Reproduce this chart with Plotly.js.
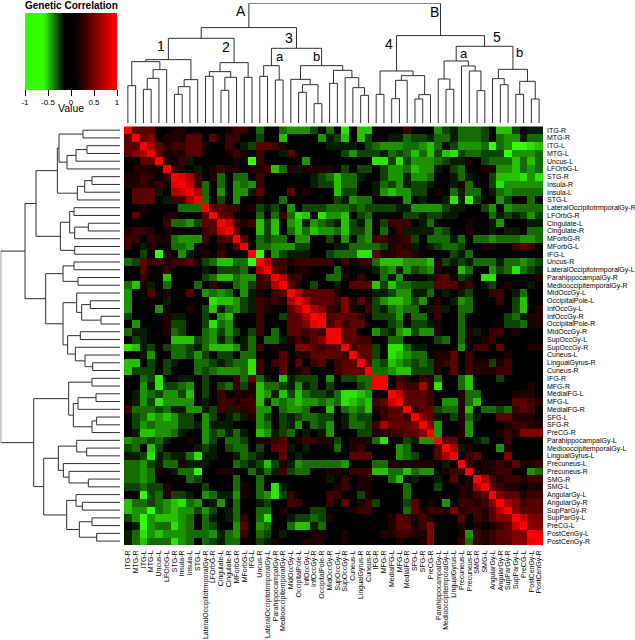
<!DOCTYPE html>
<html><head><meta charset="utf-8">
<script src="https://cdn.plot.ly/plotly-3.0.1.min.js"></script>
<style>html,body{margin:0;padding:0;background:#fff}#c{width:635px;height:640px}</style>
</head><body><div id="c"></div>
<script>
var regions=["ITG-R","MTG-R","ITG-L","MTG-L","Uncus-L","LFOrbG-L","STG-R","Insula-R","Insula-L","STG-L","LateralOccipitotrmporalGy-R","LFOrbG-R","Cingulate-L","Cingulate-R","MForbG-R","MForbG-L","IFG-L","Uncus-R","LateralOccipitotrmporalGy-L","ParahippocampalGy-R","MediooccipitemporalGy-R","MidOccGy-L","OccipitalPole-L","InfOccGy-L","InfOccGy-R","OccipitalPole-R","MidOccGy-R","SupOccGy-L","SupOccGy-R","Cuneus-L","LingualGyrus-R","Cuneus-R","IFG-R","MFG-R","MedialFG-L","MFG-L","MedialFG-R","SFG-L","SFG-R","PreCG-R","ParahippocampalGy-L","MediooccipitemporalGy-L","LingualGyrus-L","Precuneus-L","Precuneus-R","SMG-R","SMG-L","AngularGy-L","AngularGy-R","SupParGy-R","SupParGy-L","PreCG-L","PostCenGy-L","PostCenGy-R"];

// colour-intensity levels, converted to correlation by these tables
var positiveLevels=[0,.2,.3,.4,.53,.67,.77,.87,.92,.96,1];
var negativeLevels=[0,-.2,-.27,-.34,-.41,-.49,-.55,-.6];

// upper triangle of the symmetric matrix: row i holds columns i+1..53
var upperRows=[
[3,3,3,0,0,1,1,0,0,0,0,0,1,2,2,0,-3,0,0,-3,-4,-4,-4,-2,0,-3,0,-6,0,-5,-5,0,0,0,0,2,0,0,0,-4,-2,-1,-3,-3,-3,-2,0,-5,-5,-2,0,-1,-1],
[3,4,0,1,1,1,3,3,0,3,0,2,2,0,0,-2,0,0,-5,0,0,0,0,-4,-1,-2,-5,0,-5,-2,0,0,-1,-1,-3,-2,-2,-1,-3,-3,-1,-3,-3,-3,-2,0,-3,-4,-4,-1,-3,-3],
[5,3,1,2,2,3,3,1,0,0,2,0,-1,-2,3,3,2,1,0,0,0,0,0,-1,-1,-1,-1,0,-2,-3,-4,-4,-4,-3,-3,-4,-5,-3,0,-2,-4,-4,-4,-3,-7,-3,-4,-7,-7,-6,-5],
[3,1,1,1,3,3,0,0,0,1,2,1,0,2,0,0,-1,3,0,0,0,0,0,0,-2,-4,-2,-2,-2,-1,-3,-2,-3,-5,-3,-5,-2,-5,-6,-2,-3,-3,-2,-2,-2,-7,-4,-4,-4,-3],
[1,0,2,-1,0,0,0,0,0,1,0,-7,2,0,0,0,0,0,-4,0,0,0,0,0,0,0,0,-6,-6,-2,-6,-2,-4,-4,-4,-3,-2,-1,-1,1,0,-2,-3,-3,-3,-5,-3,-5,-3],
[2,1,0,-1,0,1,2,1,1,0,1,1,2,-5,-3,1,-1,1,1,1,1,0,-2,0,-2,-2,0,-2,-4,-4,-3,-5,-4,-4,-1,0,-2,-3,0,0,1,1,-4,-4,-5,-3,-4,-3],
[7,5,2,0,1,-3,0,-3,-3,0,2,0,0,0,0,0,0,-1,-2,-3,-5,-3,-3,-1,0,0,-2,-4,-4,-1,-4,-4,-3,0,0,-1,-3,-1,0,0,-2,-5,-5,-5,-6,-4,-6],
[6,2,-3,0,-3,0,-4,-3,-4,2,0,0,0,0,0,0,-1,-2,-2,-5,-3,-3,0,0,-1,-3,-2,-4,-1,-2,-2,-1,0,0,-1,1,-3,0,0,-2,-6,-4,-4,-4,-4,-4],
[5,-3,0,-4,0,-4,-4,-1,3,0,0,0,3,0,1,0,0,0,-5,-2,-2,0,0,-1,-4,-5,-4,-4,-2,-2,0,1,0,-3,-1,-3,-3,0,-1,-3,-4,-3,-3,-3,-3],
[-3,0,-2,0,-4,0,0,1,0,0,-3,0,0,0,0,0,0,-2,-1,-4,-3,-3,0,0,0,0,-4,0,-1,0,0,-1,-6,-1,-7,-2,0,0,-4,-2,0,0,-3,0],
[3,3,2,2,0,1,-2,-1,-2,0,-4,0,-2,-2,-2,-3,-3,-3,-2,-3,-2,-2,-2,-2,-1,-1,-4,-4,-4,-4,-2,-1,-1,0,0,-2,-4,0,-4,-3,-3,-3,-3],
[3,3,0,0,0,-3,0,-3,2,-3,-6,-5,0,-6,-4,-4,-5,0,-2,-3,0,0,0,0,-2,-2,-1,-2,-2,-1,-1,0,0,0,0,-3,-1,-2,-1,-2,-4,-2],
[6,2,1,2,-5,-2,-5,0,-4,-5,-1,-4,-3,-2,-1,-5,-2,-1,-4,0,-2,2,2,2,0,-1,-3,0,0,0,0,1,0,0,-1,-4,0,0,0,-1,-1],
[3,0,0,-5,-2,-5,0,-3,-5,-3,-5,-4,-4,-3,-5,-2,-2,-4,0,-3,0,2,-1,-1,-1,-1,-3,-2,0,0,1,0,0,-1,0,-1,-1,0,-3,-3],
[3,0,-3,-2,-3,-3,0,-4,-4,0,0,-2,0,-4,0,-3,-4,2,2,1,1,2,-2,0,-3,-3,-3,-1,-3,0,-3,-3,-4,-3,-3,-3,-4,-4,-3],
[0,-3,-3,-4,-4,-4,-2,-2,0,0,0,-1,-1,-3,-3,-3,-3,-2,1,2,1,-1,0,-1,-2,-3,-3,-2,0,0,1,1,0,0,2,3,2,0],
[-7,0,-4,-2,-1,-1,-1,0,0,-2,-3,-3,-3,-6,-6,3,1,1,2,2,1,0,0,0,0,-2,-1,-3,0,0,0,0,0,0,0,0,0],
[5,2,2,1,2,2,2,2,2,0,2,0,2,2,-3,-5,-5,-5,-4,-4,-4,-5,1,-2,-1,-2,-1,-3,-3,-3,-1,-3,-3,-4,-3,-2],
[3,2,0,1,1,0,0,0,-3,0,0,0,0,-1,-3,-4,-1,-4,-2,-3,-4,1,0,0,-5,-3,0,0,-4,-2,-3,-6,-3,-2,-1],
[5,2,2,0,0,0,-3,-3,1,0,2,0,0,-3,-1,-4,0,0,0,-1,2,3,0,-2,-1,0,-6,-6,0,0,0,0,0,1],
[3,1,0,-2,0,0,-1,0,3,3,3,-5,-2,-5,-3,-3,-2,-2,-2,3,3,3,1,2,0,-1,-2,0,1,0,0,-1,0],
[5,3,3,3,3,1,0,0,0,0,-1,-1,-2,-4,-4,-1,-1,-3,0,-1,0,-1,-2,0,0,2,2,0,-1,-3,0,0],
[5,3,3,3,2,4,1,3,1,-2,-4,-5,-5,-4,-2,-4,0,1,0,-1,-4,-3,0,0,0,2,0,-2,-5,0,0],
[5,4,2,1,4,1,0,2,-2,-1,-3,-4,-3,-3,0,-1,2,-1,0,-3,-3,0,0,0,0,0,-2,-5,0,1],
[7,3,3,3,3,2,0,-2,-2,-2,-4,0,-3,-3,0,2,0,0,-3,0,0,0,0,0,-2,-3,-1,1,1],
[2,4,2,3,3,0,0,0,-2,-3,0,-2,-2,-1,1,0,0,-3,0,0,0,0,0,-2,-2,-3,1,1],
[8,3,3,0,0,-4,-2,-1,-4,-5,-2,-4,-4,1,0,0,-3,1,-1,0,2,2,0,1,0,0,0],
[3,3,2,2,0,0,-3,-3,0,0,0,0,-2,-3,0,-3,1,0,1,2,0,0,0,0,0,0],
[2,3,3,-2,0,-6,-6,-3,-1,-1,0,0,0,0,-4,0,2,2,0,3,0,0,0,1,1],
[3,3,-2,0,-6,-5,-4,-3,-3,0,1,1,3,0,2,0,0,0,0,1,0,0,0,0],
[3,-3,-2,-5,-4,-3,-2,-3,-2,1,2,3,0,2,1,1,-2,1,2,0,0,0,0],
[-3,-3,-4,-5,-5,-2,-2,-2,1,0,3,0,2,1,1,1,2,2,0,0,0,0],
[8,0,2,1,0,2,1,-3,0,0,-3,-5,0,0,0,-2,0,0,0,0,0],
[0,3,2,2,5,1,-6,0,0,-3,-5,0,0,0,0,0,0,0,1,0],
[6,3,3,3,2,0,0,0,1,-3,-3,0,0,0,0,1,1,1,0],
[3,3,3,2,0,-4,-4,1,-3,-5,0,0,0,0,3,3,2,1],
[2,3,3,-2,-3,-3,1,-5,0,-3,-3,-2,-3,2,3,2,0],
[4,3,-1,0,-2,1,-3,-1,0,0,3,3,1,1,1,0],
[4,-4,0,0,1,-4,0,0,0,0,1,2,2,1,1],
[-4,0,0,1,-4,0,0,0,1,2,1,4,4,4],
[3,3,0,0,-1,-2,0,0,2,0,0,0,0],
[5,-1,1,0,0,0,-4,1,0,0,0,0],
[0,2,3,0,0,0,4,0,0,0,0],
[2,0,1,1,2,1,3,1,1,2],
[1,1,1,2,2,0,0,-4,-3],
[5,2,1,2,2,1,2,2],
[3,2,1,1,0,1,1],
[4,3,3,1,2,2],
[5,4,2,3,3],
[4,3,3,3],
[6,4,4],
[4,4],
[7],
[]
];

// merge trees: [height, left, right], a plain number is a leaf
var topTree=[359,
 [286,
  [254,
   [190,[184,[112,0,1],[160,[134,[101,2,3],4],5]],[130,[109,[86,6,7],8],9]],
   [181,[154,[140,10,11],[137,[98,12,13],14]],[137,15,16]]],
  [224,
   [172,[140,17,18],[129,19,20]],
   [172,[131,21,[115,[92,22,23],[58,24,25]]],[158,[119,26,27],[136,28,[106,29,[83,30,31]]]]]]],
 [262,
  [156,[86,32,33],[142,[128,[73,34,35],36],[85,[72,37,38],39]]],
  [230,
   [186,[132,40,[101,41,42]],[171,43,[156,44,[97,45,46]]]],
   [161,[133,47,[115,48,49]],[125,[86,50,51],[72,52,53]]]]]];
var leftTree=[358,
 [285,
  [252,
   [188,[183,[111,0,1],[159,[132,[99,2,3],4],5]],[128,[106,[84,6,7],8],9]],
   [179,[151,[138,10,11],[136,[95,12,13],14]],[136,15,16]]],
  [223,
   [171,[138,17,18],[126,19,20]],
   [171,[130,21,[115,[89,22,23],[57,24,25]]],[157,[119,26,27],[134,28,[105,29,[82,30,31]]]]]]],
 [259,
  [154,[84,32,33],[140,[126,[72,34,35],36],[84,[70,37,38],39]]],
  [229,
   [185,[130,40,[100,41,42]],[170,43,[153,44,[95,45,46]]]],
   [160,[132,47,[113,48,49]],[122,[84,50,51],[70,52,53]]]]]];

var legendTicks=[-1,-0.5,0,0.5,1];
var clusterLabels=[["A",241,11,14],["1",161,46,14],["2",226,47,14],["3",289,38,14],["a",280,56,13],["b",316,56,13],
 ["B",434,12,14],["4",389,44,14],["5",497,37,14],["a",464,54,13],["b",519,53,13]];

function toCorr(l){return l>=0?positiveLevels[l]:negativeLevels[-l];}
var n=regions.length,z=[];
for(var i=0;i<n;i++){z.push(new Array(n).fill(0));z[i][i]=1;}
upperRows.forEach(function(r,i){r.forEach(function(l,k){var j=i+1+k;if(j<n){z[i][j]=toCorr(l);z[j][i]=toCorr(l);}});});

function walk(node,a,b){
  if(typeof node==='number')return {pos:node,h:0};
  var l=walk(node[1],a,b),r=walk(node[2],a,b);
  a.push(l.pos,l.pos,r.pos,r.pos,null);
  b.push(l.h,node[0],node[0],r.h,null);
  return {pos:(l.pos+r.pos)/2,h:node[0]};
}
var tx=[],th=[],lx=[],lh=[];
walk(topTree,tx,th);walk(leftTree,lx,lh);

var W=635,H=640;
function fx(p){return p/W;} function fy(p){return 1-p/H;}
var L=124,R=543,T=126.3,B=545;
var colors=[[0,'#33ff00'],[0.2,'#33ff00'],[0.425,'#000000'],[0.55,'#000000'],[0.975,'#ff0000'],[1,'#ff0000']];

var data=[
 {type:'heatmap',x:regions,y:regions,z:z,zmin:-1,zmax:1,colorscale:colors,xgap:0,ygap:0,hoverongaps:false,
  colorbar:{orientation:'h',lenmode:'pixels',len:92,thicknessmode:'pixels',thickness:77,xanchor:'left',yanchor:'top',
    x:fx(25),y:fy(13),xpad:0,ypad:0,outlinewidth:0,tickmode:'array',tickvals:legendTicks,ticktext:['-1','-0.5','0','0.5','1'],
    ticks:'outside',ticklen:6,tickcolor:'#000',tickwidth:1,tickfont:{family:'Liberation Sans',size:8,color:'#000'}}},
 {type:'scatter',mode:'lines',x:tx,y:th,xaxis:'x2',yaxis:'y2',line:{color:'#2e2e2e',width:1},hoverinfo:'skip',showlegend:false,connectgaps:false},
 {type:'scatter',mode:'lines',x:lh,y:lx,xaxis:'x3',yaxis:'y3',line:{color:'#2e2e2e',width:1},hoverinfo:'skip',showlegend:false,connectgaps:false}
];
var off={visible:false,fixedrange:true};
var ann=clusterLabels.map(function(c){return {text:c[0],xref:'paper',yref:'paper',x:fx(c[1]),y:fy(c[2]),showarrow:false,xanchor:'center',yanchor:'middle',font:{family:'Liberation Sans',size:c[3],color:'#000'}};});
ann.push({text:'<b>Genetic Correlation</b>',xref:'paper',yref:'paper',x:fx(71),y:fy(5),showarrow:false,xanchor:'center',yanchor:'middle',font:{family:'Liberation Sans',size:10,color:'#000'}});
ann.push({text:'Value',xref:'paper',yref:'paper',x:fx(70.5),y:fy(108),showarrow:false,xanchor:'center',yanchor:'middle',font:{family:'Liberation Sans',size:10.5,color:'#000'}});
var layout={width:W,height:H,margin:{l:0,r:0,t:0,b:0},paper_bgcolor:'#fff',plot_bgcolor:'#fff',showlegend:false,
 font:{family:'Liberation Sans'},
 xaxis:{domain:[fx(L),fx(R)],type:'category',tickmode:'linear',dtick:1,tickangle:-90,ticks:'',ticklabelstandoff:3,showgrid:false,zeroline:false,showline:false,tickfont:{size:7,color:'#000'},side:'bottom',anchor:'y',automargin:false},
 yaxis:{domain:[fy(B),fy(T)],type:'category',autorange:'reversed',tickmode:'linear',dtick:1,ticks:'',ticklabelstandoff:3,showgrid:false,zeroline:false,showline:false,tickfont:{size:7,color:'#000'},side:'right',anchor:'x',automargin:false},
 xaxis2:Object.assign({domain:[fx(L),fx(R)],range:[-0.5,53.5],anchor:'y2'},off),
 yaxis2:Object.assign({domain:[fy(123),fy(3.3)],range:[0,359],anchor:'x2'},off),
 xaxis3:Object.assign({domain:[fx(0.7),fx(120)],range:[358,0],anchor:'y3'},off),
 yaxis3:Object.assign({domain:[fy(B),fy(T)],range:[53.5,-0.5],anchor:'x3'},off),
 annotations:ann};
Plotly.newPlot('c',data,layout,{staticPlot:true,displayModeBar:false});
</script></body></html>
